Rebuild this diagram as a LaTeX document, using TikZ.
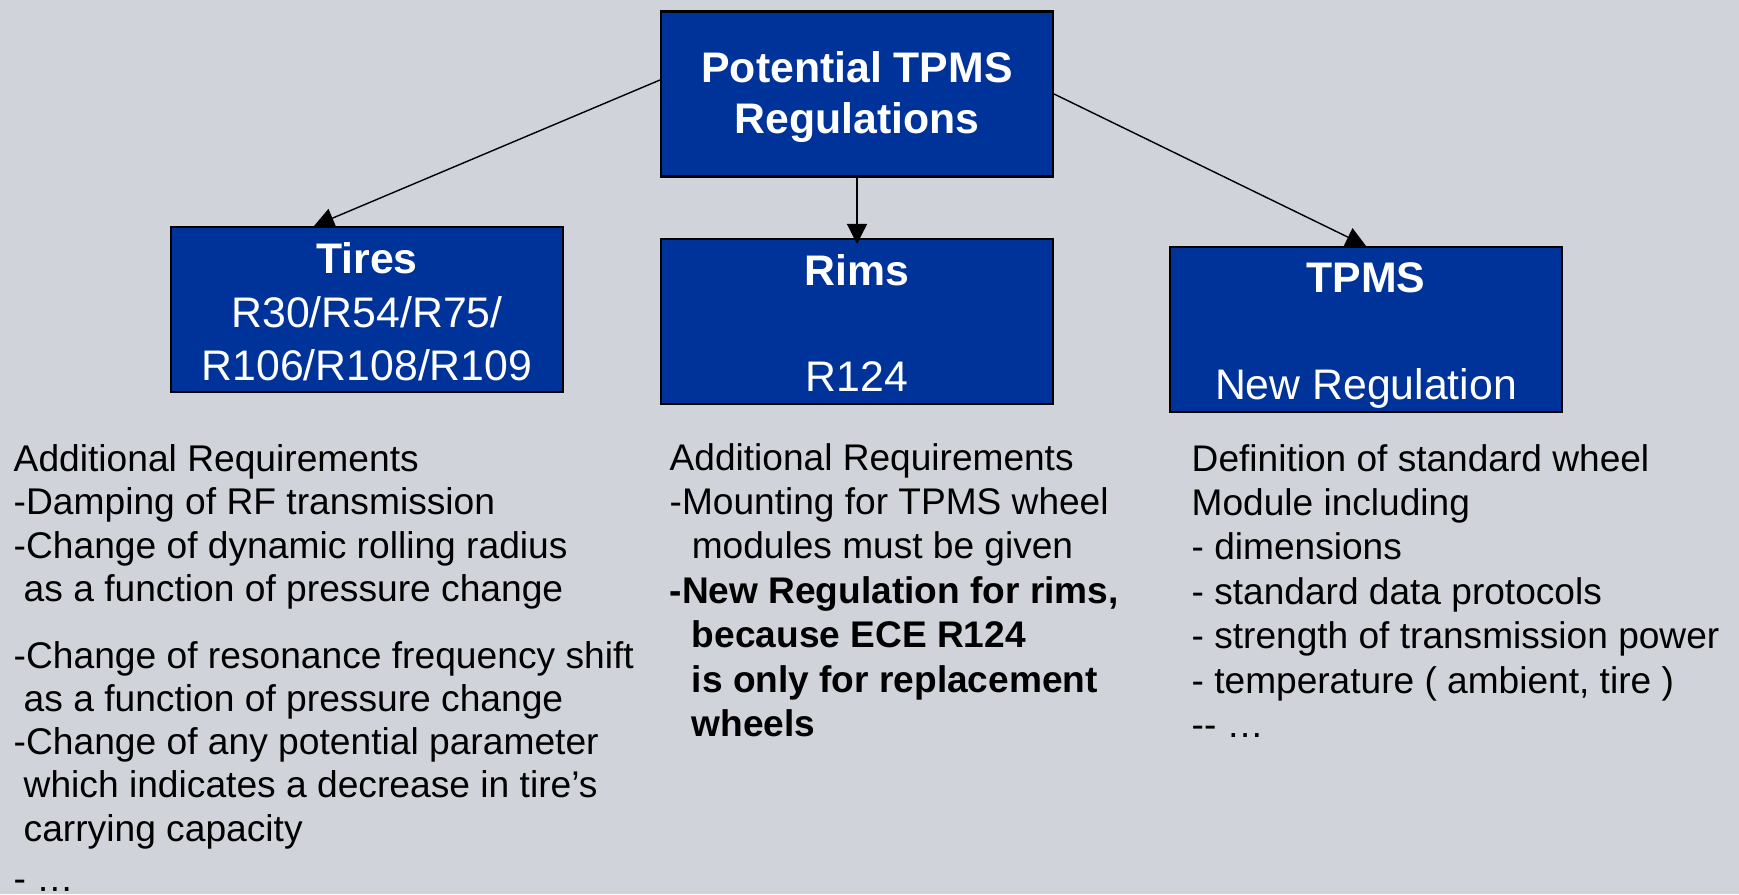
\documentclass[tikz,border=0pt]{standalone}
\usepackage{fontspec}
\setmainfont{Liberation Sans}
\usetikzlibrary{arrows.meta}
\definecolor{slidegray}{RGB}{208,211,218}
\definecolor{boxblue}{RGB}{0,51,153}

\tikzset{
  box/.style={draw=black, line width=0.6pt, fill=boxblue, text=white,
    minimum width=3.92cm, minimum height=1.65cm, inner sep=0pt,
    align=center, font=\fontsize{12.17}{15.2}\selectfont},
  link/.style={-{Triangle[length=0.2cm,width=0.2cm]}, line width=0.4pt, black},
  req/.style={anchor=north west, inner sep=0pt, align=left,
    font=\fontsize{10.55}{12.63}\selectfont}
}

\begin{document}
\begin{tikzpicture}
\fill[slidegray] (0,0) rectangle (17.39,-8.94);
\useasboundingbox (0,0) rectangle (17.39,-8.94);

% regulation boxes (the struts push the first line down a little)
\node (top) at (8.57,-0.94) [box, font=\fontsize{12.17}{14.65}\selectfont\bfseries] {\rule{0pt}{10.6pt}Potential TPMS\\Regulations};
\node (tires) at (3.67,-3.095) [box] {\rule{0pt}{10.1pt}\textbf{Tires}\\R30/R54/R75/\\R106/R108/R109};
\node (rims) at (8.57,-3.215) [box] {\rule{0pt}{9.7pt}\textbf{Rims}\\~\\R124};
\node (tpms) at (13.66,-3.295) [box] {\rule{0pt}{11.8pt}\textbf{TPMS}\\~\\New Regulation};

\draw[link] ([yshift=0.14cm]top.west) -- ([xshift=-0.53cm]tires.north);
\draw[link, shorten >=-0.06cm] (top.south) -- (rims.north);
\draw[link] (top.east) -- (tpms.north);

% requirement lists
\node (tiresreq) at (0.13,-4.44) [req, font=\fontsize{10.58}{12.32}\selectfont] {%
Additional Requirements\\
-Damping of RF transmission\\
-Change of dynamic rolling radius\\
\hspace*{2.85pt}as a function of pressure change\\[6.6pt]
-Change of resonance frequency shift\\
\hspace*{2.85pt}as a function of pressure change\\
-Change of any potential parameter\\
\hspace*{2.85pt}which indicates a decrease in tire’s\\
\hspace*{2.85pt}carrying capacity\\[2pt]
- …};

\node (rimsreq) at (6.69,-4.425) [req] {%
Additional Requirements\\
-Mounting for TPMS wheel\\
\hspace*{6.3pt}modules must be given\\
\textbf{-New Regulation for rims,}\\
\hspace*{6.3pt}\textbf{because ECE R124}\\
\hspace*{6.3pt}\textbf{is only for replacement}\\
\hspace*{6.3pt}\textbf{wheels}};

\node (tpmsreq) at (11.91,-4.435) [req] {%
Definition of standard wheel\\
Module including\\
- dimensions\\
- standard data protocols\\
- strength of transmission power\\
- temperature ( ambient, tire )\\
-{}- …};

\end{tikzpicture}
\end{document}
